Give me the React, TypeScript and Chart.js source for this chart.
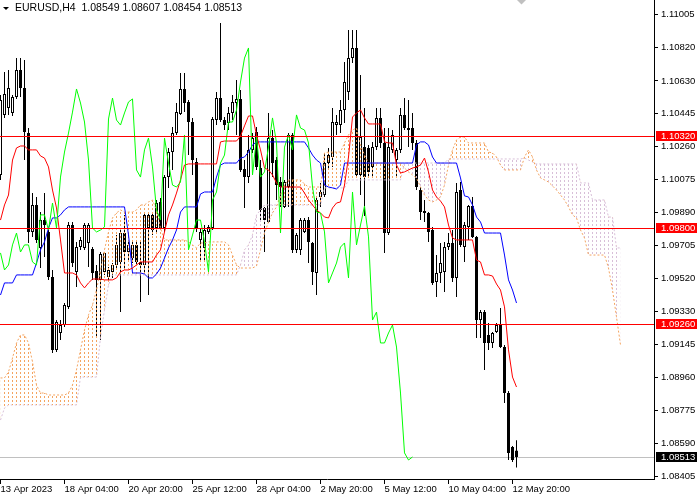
import React, { useEffect, useRef } from "react";
import { Chart, registerables } from "chart.js";

Chart.register(...registerables);

// EURUSD H4, one entry per bar (bar 0 = 13 Apr 2023)
const opens = [
  1.10101, 1.10439, 1.10478, 1.1045, 1.1054, 1.10692, 1.10591, 1.10337, 1.0978, 1.09932,
  1.0969, 1.09847, 1.0978, 1.09526, 1.09116, 1.09211, 1.09256, 1.09358, 1.09819, 1.09555,
  1.09695, 1.0969, 1.09718, 1.09684, 1.0956, 1.0951, 1.09555, 1.09526, 1.09555, 1.09594,
  1.09611, 1.09774, 1.09667, 1.09633, 1.09707, 1.09611, 1.09594, 1.09802, 1.09876, 1.09802,
  1.09949, 1.09802, 1.10089, 1.1023, 1.10337, 1.10444, 1.10585, 1.10512, 1.10399, 1.10174,
  1.09735, 1.0969, 1.0978, 1.09802, 1.1041, 1.10534, 1.1041, 1.10394, 1.1045, 1.10506,
  1.10529, 1.10135, 1.10089, 1.10242, 1.10343, 1.1014, 1.09915, 1.09836, 1.10309, 1.10185,
  1.10061, 1.09921, 1.10033, 1.10326, 1.09679, 1.09679, 1.0978, 1.09847, 1.09718, 1.09549,
  1.09977, 1.09988, 1.10168, 1.10202, 1.10382, 1.10382, 1.10467, 1.10568, 1.10759, 1.10816,
  1.10101, 1.10258, 1.10253, 1.10146, 1.10258, 1.10422, 1.10281, 1.09774, 1.10242, 1.10185,
  1.10242, 1.10439, 1.10365, 1.10365, 1.10281, 1.10016, 1.09898, 1.09887, 1.09791, 1.09498,
  1.09549, 1.09555, 1.09695, 1.09718, 1.09521, 1.10016, 1.09695, 1.09808, 1.09926, 1.09752,
  1.09284, 1.09329, 1.092, 1.09155, 1.09217, 1.09256, 1.09132, 1.08873, 1.08569, 1.08549,
];
const highs = [
  1.10551, 1.10681, 1.10692, 1.10551, 1.10759, 1.10759, 1.10748, 1.10365, 1.09999, 1.09977,
  1.09892, 1.09999, 1.09802, 1.09566, 1.09284, 1.09284, 1.0938, 1.09836, 1.09836, 1.09724,
  1.09752, 1.09831, 1.09831, 1.09695, 1.09594, 1.09667, 1.09667, 1.09583, 1.09605, 1.09763,
  1.09802, 1.09876, 1.09724, 1.09724, 1.09724, 1.09724, 1.09887, 1.09887, 1.09892, 1.0996,
  1.09971, 1.10101, 1.10253, 1.10371, 1.10506, 1.10675, 1.10675, 1.10523, 1.10422, 1.10196,
  1.09802, 1.09819, 1.09819, 1.10427, 1.10568, 1.10957, 1.10427, 1.10484, 1.10551, 1.10636,
  1.10579, 1.10185, 1.10326, 1.10337, 1.10371, 1.10185, 1.09921, 1.1045, 1.10354, 1.10202,
  1.10089, 1.10073, 1.10337, 1.10337, 1.09774, 1.09859, 1.09859, 1.09864, 1.09724, 1.09971,
  1.10056, 1.10225, 1.10253, 1.10478, 1.10439, 1.10523, 1.10737, 1.10917, 1.10917, 1.10917,
  1.10664, 1.10478, 1.1027, 1.10287, 1.10478, 1.10478, 1.10365, 1.10365, 1.10354, 1.10253,
  1.10478, 1.10534, 1.10523, 1.1045, 1.10298, 1.10033, 1.0996, 1.09892, 1.09808, 1.0965,
  1.09718, 1.09724, 1.09774, 1.09791, 1.10056, 1.10061, 1.09836, 1.09932, 1.09977, 1.09757,
  1.09341, 1.09341, 1.09268, 1.09217, 1.09268, 1.09352, 1.09144, 1.08885, 1.08575, 1.08607,
];
const lows = [
  1.10073, 1.10422, 1.10439, 1.10433, 1.10529, 1.1054, 1.10185, 1.09718, 1.09752, 1.09718,
  1.09577, 1.09639, 1.0951, 1.09099, 1.09104, 1.09172, 1.09245, 1.09346, 1.09583, 1.0947,
  1.09679, 1.09679, 1.09583, 1.0951, 1.09183, 1.09172, 1.09538, 1.0951, 1.09521, 1.09577,
  1.09329, 1.09577, 1.09611, 1.09605, 1.09594, 1.09386, 1.09549, 1.09425, 1.09763, 1.0978,
  1.09791, 1.0978, 1.10028, 1.10129, 1.10326, 1.10439, 1.10455, 1.10213, 1.10101, 1.0978,
  1.09611, 1.09611, 1.09769, 1.09791, 1.10382, 1.10399, 1.10354, 1.10354, 1.1041, 1.10326,
  1.10118, 1.09915, 1.10056, 1.10225, 1.10129, 1.09847, 1.09667, 1.09831, 1.10089, 1.0996,
  1.09921, 1.09915, 1.09921, 1.09662, 1.09662, 1.0965, 1.09774, 1.09605, 1.09481, 1.09425,
  1.09921, 1.09977, 1.10129, 1.10146, 1.10326, 1.10337, 1.10394, 1.10523, 1.10731, 1.10084,
  1.09988, 1.0987, 1.10089, 1.10089, 1.10242, 1.10253, 1.09662, 1.09763, 1.10225, 1.10089,
  1.10225, 1.10354, 1.10258, 1.10242, 1.10016, 1.09847, 1.09836, 1.09724, 1.09481, 1.09414,
  1.09493, 1.09442, 1.09679, 1.09498, 1.09414, 1.09695, 1.09611, 1.09735, 1.09746, 1.09183,
  1.09183, 1.09003, 1.09116, 1.09127, 1.09211, 1.09127, 1.08817, 1.08496, 1.08485, 1.08454,
];
const closes = [
  1.10523, 1.10557, 1.10591, 1.1054, 1.10692, 1.10591, 1.10343, 1.0978, 1.09932, 1.09735,
  1.09847, 1.09819, 1.09526, 1.09116, 1.09273, 1.09256, 1.09369, 1.09819, 1.09605, 1.09695,
  1.09735, 1.09819, 1.09819, 1.09549, 1.0951, 1.09656, 1.09662, 1.09566, 1.09594, 1.09707,
  1.09774, 1.09667, 1.09707, 1.09707, 1.09611, 1.09594, 1.09876, 1.09876, 1.09791, 1.09943,
  1.09802, 1.10089, 1.1023, 1.10337, 1.10455, 1.10585, 1.10506, 1.10399, 1.10185, 1.09802,
  1.0978, 1.09791, 1.09808, 1.10416, 1.10534, 1.1041, 1.10382, 1.1045, 1.10512, 1.10529,
  1.10129, 1.10089, 1.10242, 1.10309, 1.10146, 1.09904, 1.09847, 1.10309, 1.10168, 1.10044,
  1.10033, 1.10061, 1.10326, 1.09679, 1.09763, 1.09847, 1.09847, 1.09724, 1.09555, 1.0996,
  1.10005, 1.10168, 1.10213, 1.10399, 1.10399, 1.10467, 1.10624, 1.10759, 1.10816, 1.10101,
  1.10315, 1.10089, 1.10118, 1.10258, 1.10422, 1.10281, 1.09774, 1.10258, 1.10326, 1.10242,
  1.10439, 1.10365, 1.10354, 1.10281, 1.10033, 1.09892, 1.09887, 1.0978, 1.09493, 1.09549,
  1.09605, 1.09695, 1.09718, 1.09521, 1.10005, 1.09707, 1.09819, 1.09926, 1.09752, 1.09284,
  1.09329, 1.09155, 1.09155, 1.09211, 1.09256, 1.09132, 1.08873, 1.08536, 1.08496, 1.08513,
];

// Ichimoku lines
const tenkan = [
  1.09847, 1.09932, 1.09988, 1.10185, 1.10253, 1.10264, 1.10264, 1.10242, 1.10242, 1.10242,
  1.10208, 1.10196, 1.10146, 1.10016, 1.09915, 1.09735, 1.09549, 1.09549, 1.09549, 1.09538,
  1.09493, 1.09465, 1.09493, 1.09515, 1.09515, 1.09515, 1.0951, 1.0951, 1.0951, 1.09521,
  1.09555, 1.09566, 1.09566, 1.09577, 1.09594, 1.09611, 1.09611, 1.09611, 1.09611, 1.0965,
  1.09679, 1.0978, 1.09876, 1.09932, 1.09999, 1.10073, 1.10157, 1.10163, 1.10163, 1.10163,
  1.10163, 1.10163, 1.10163, 1.10163, 1.10163, 1.10287, 1.10292, 1.10292, 1.10292, 1.10292,
  1.1032, 1.10377, 1.10433, 1.10433, 1.10326, 1.10242, 1.1014, 1.10129, 1.10101, 1.10056,
  1.10033, 1.10033, 1.10033, 1.10033, 1.10033, 1.10033, 1.09999, 1.0996, 1.09932, 1.09904,
  1.09887, 1.09864, 1.09859, 1.09915, 1.09943, 1.09949, 1.10044, 1.10202, 1.10427, 1.1045,
  1.10467, 1.10422, 1.10388, 1.10388, 1.10388, 1.10388, 1.10287, 1.10281, 1.10281, 1.10157,
  1.10112, 1.10118, 1.10129, 1.1014, 1.10146, 1.10157, 1.10196, 1.10118, 1.10016, 1.09977,
  1.09954, 1.09921, 1.09819, 1.09746, 1.09735, 1.09735, 1.09735, 1.09735, 1.09735, 1.09622,
  1.09611, 1.09538, 1.09538, 1.09532, 1.09487, 1.09453, 1.09358, 1.09116, 1.08963, 1.08907,
];
const kijun = [
  1.09425, 1.09493, 1.09493, 1.09493, 1.09538, 1.09538, 1.09538, 1.09538, 1.09538, 1.09605,
  1.09679, 1.09724, 1.09802, 1.09859, 1.09859, 1.09876, 1.09904, 1.09921, 1.09921, 1.09921,
  1.09921, 1.09921, 1.09921, 1.09921, 1.09921, 1.09921, 1.09921, 1.09921, 1.09921, 1.09921,
  1.09921, 1.09921, 1.09763, 1.09549, 1.09549, 1.09549, 1.09543, 1.09521, 1.09521, 1.09543,
  1.09577, 1.09633, 1.0969, 1.09735, 1.09791, 1.09892, 1.09921, 1.09921, 1.09921, 1.09921,
  1.09994, 1.10005, 1.10005, 1.10005, 1.10089, 1.10157, 1.10168, 1.10168, 1.10168, 1.10168,
  1.10196, 1.10202, 1.1023, 1.1027, 1.10287, 1.10287, 1.10287, 1.10287, 1.10287, 1.10287,
  1.10287, 1.10287, 1.10287, 1.10287, 1.10287, 1.10287, 1.10287, 1.10253, 1.10213, 1.10185,
  1.10168, 1.10044, 1.10033, 1.10028, 1.10022, 1.10044, 1.10168, 1.10168, 1.10168, 1.10168,
  1.10168, 1.10168, 1.10168, 1.10168, 1.10168, 1.10168, 1.10168, 1.10168, 1.10168, 1.10168,
  1.10168, 1.10168, 1.10168, 1.10168, 1.1027, 1.10287, 1.10287, 1.1027, 1.10202, 1.10168,
  1.10168, 1.10168, 1.10168, 1.10168, 1.10168, 1.10084, 1.09983, 1.09977, 1.09932, 1.09864,
  1.09836, 1.09774, 1.09774, 1.09774, 1.09774, 1.09774, 1.0965, 1.0951, 1.09453, 1.0938,
];
// Senkou spans, already shifted 26 bars ahead (156 positions)
const spanA = [
  1.08958, 1.08958, 1.08992, 1.0907, 1.09155, 1.092, 1.092, 1.09155, 1.09048, 1.08918,
  1.08873, 1.08873, 1.08862, 1.08862, 1.08862, 1.08862, 1.08862, 1.08873, 1.08918, 1.09003,
  1.09116, 1.09228, 1.09313, 1.09369, 1.09453, 1.09566, 1.09679, 1.0978, 1.09859, 1.09887,
  1.09904, 1.09892, 1.09892, 1.09892, 1.09904, 1.09932, 1.09932, 1.09949, 1.0996, 1.09904,
  1.09802, 1.09735, 1.09735, 1.09735, 1.09735, 1.09735, 1.09735, 1.09724, 1.09707, 1.0969,
  1.09718, 1.09718, 1.09724, 1.09724, 1.09724, 1.09724, 1.09724, 1.09707, 1.0965, 1.09594,
  1.09577, 1.09577, 1.09577, 1.09577, 1.09588, 1.09679, 1.09774, 1.09836, 1.09887, 1.09921,
  1.09988, 1.10044, 1.10073, 1.10073, 1.10073, 1.10073, 1.1005, 1.10033, 1.10033, 1.10033,
  1.10033, 1.10225, 1.1023, 1.1023, 1.1023, 1.1023, 1.10281, 1.10326, 1.10354, 1.10365,
  1.1027, 1.10213, 1.10168, 1.10168, 1.10168, 1.10168, 1.10168, 1.10168, 1.10168, 1.10168,
  1.10168, 1.1014, 1.10118, 1.10101, 1.10084, 1.10033, 1.09988, 1.0996, 1.09949, 1.0996,
  1.09977, 1.10044, 1.10157, 1.10242, 1.10298, 1.10315, 1.10315, 1.10281, 1.10281, 1.10281,
  1.10281, 1.10281, 1.1023, 1.10225, 1.10202, 1.10157, 1.10129, 1.10129, 1.10129, 1.10129,
  1.10129, 1.10202, 1.10242, 1.10202, 1.10129, 1.10084, 1.10073, 1.10061, 1.10039, 1.10016,
  1.09988, 1.0996, 1.09921, 1.09876, 1.09859, 1.09791, 1.09746, 1.0965, 1.0965, 1.0965,
  1.0965, 1.0965, 1.09577, 1.09453, 1.09301, 1.09144,
];
const spanB = [
  1.08721, 1.08789, 1.08806, 1.08806, 1.08806, 1.08806, 1.08806, 1.08806, 1.08806, 1.08806,
  1.08806, 1.08806, 1.08806, 1.08806, 1.08806, 1.08806, 1.08806, 1.08806, 1.08806, 1.08806,
  1.08963, 1.08963, 1.08963, 1.08963, 1.08963, 1.09189, 1.09341, 1.09481, 1.09538, 1.09538,
  1.09538, 1.09538, 1.09538, 1.09538, 1.09538, 1.09538, 1.09538, 1.09538, 1.09538, 1.09538,
  1.09538, 1.09538, 1.09538, 1.09538, 1.09538, 1.09538, 1.09538, 1.09538, 1.09538, 1.09538,
  1.09538, 1.09538, 1.09538, 1.09538, 1.09538, 1.09538, 1.09538, 1.09538, 1.09538, 1.09538,
  1.09594, 1.09679, 1.09707, 1.09763, 1.09876, 1.09904, 1.09932, 1.09932, 1.09932, 1.09932,
  1.09932, 1.09932, 1.09932, 1.09932, 1.09932, 1.09932, 1.09932, 1.09932, 1.09932, 1.09932,
  1.09932, 1.10028, 1.10028, 1.10028, 1.10028, 1.10028, 1.10028, 1.10073, 1.10073, 1.10073,
  1.10073, 1.10073, 1.10073, 1.10073, 1.10073, 1.10073, 1.10073, 1.10073, 1.10073, 1.10073,
  1.10073, 1.10168, 1.10168, 1.10168, 1.10168, 1.10168, 1.10168, 1.10168, 1.10168, 1.10168,
  1.10168, 1.10168, 1.10191, 1.10191, 1.10191, 1.10191, 1.10191, 1.10191, 1.10191, 1.10191,
  1.10191, 1.10191, 1.10191, 1.10191, 1.10191, 1.10191, 1.10191, 1.10191, 1.10191, 1.10191,
  1.10191, 1.10196, 1.10185, 1.10174, 1.10163, 1.10163, 1.10163, 1.10163, 1.10163, 1.10163,
  1.10163, 1.10163, 1.10163, 1.10163, 1.10163, 1.10056, 1.10056, 1.10056, 1.0996, 1.0996,
  1.0996, 1.0996, 1.09864, 1.09864, 1.0969, 1.0969,
];

const timeTickBars = [0, 16, 32, 48, 64, 80, 96, 112, 128];
const timeTickLabels = [
  "13 Apr 2023", "18 Apr 04:00", "20 Apr 20:00", "25 Apr 12:00", "28 Apr 04:00",
  "2 May 20:00", "5 May 12:00", "10 May 04:00", "12 May 20:00",
];
const priceTicks = [
  1.11005, 1.1082, 1.1063, 1.10445, 1.1026, 1.10075, 1.0989, 1.09705, 1.0952, 1.0933,
  1.09145, 1.0896, 1.08775, 1.0859, 1.08405,
];
const levels = [1.1032, 1.098, 1.0926];
const symbol = "EURUSD,H4";

const FONT = "Liberation Sans";
const last = closes.length - 1;

function dotPattern(ctx: CanvasRenderingContext2D, color: string) {
  const c = document.createElement("canvas");
  c.width = 4;
  c.height = 4;
  const g = c.getContext("2d")!;
  g.fillStyle = color;
  g.fillRect(0, 0, 1, 2);
  return ctx.createPattern(c, "repeat");
}

const overlay = {
  id: "mtOverlay",
  beforeDatasetsDraw(chart: any) {
    const { ctx, chartArea, scales } = chart;
    const y = Math.round(scales.y.getPixelForValue(closes[last])) + 0.5;
    ctx.save();
    ctx.strokeStyle = "#c0c0c0";
    ctx.lineWidth = 1;
    ctx.beginPath();
    ctx.moveTo(chartArea.left, y);
    ctx.lineTo(chartArea.right, y);
    ctx.stroke();
    ctx.restore();
  },
  afterDatasetsDraw(chart: any) {
    const { ctx, chartArea, scales } = chart;
    ctx.save();
    ctx.strokeStyle = "#ff0000";
    ctx.lineWidth = 1;
    levels.forEach((lv) => {
      const y = Math.round(scales.y.getPixelForValue(lv)) + 0.5;
      ctx.beginPath();
      ctx.moveTo(chartArea.left, y);
      ctx.lineTo(chartArea.right, y);
      ctx.stroke();
    });
    ctx.restore();
  },
  afterDraw(chart: any) {
    const { ctx, chartArea, scales } = chart;
    ctx.save();
    ctx.font = `9.5px "${FONT}"`;
    ctx.textBaseline = "middle";
    const box = (price: number, bg: string) => {
      const y = Math.round(scales.y.getPixelForValue(price));
      ctx.fillStyle = bg;
      ctx.fillRect(chartArea.right + 2, y - 5, 41, 10);
      ctx.fillStyle = "#ffffff";
      ctx.fillText(price.toFixed(5), chartArea.right + 7, y + 0.5);
    };
    levels.forEach((lv) => box(lv, "#ff0000"));
    box(closes[last], "#000000");

    // title
    ctx.fillStyle = "#000000";
    ctx.beginPath();
    ctx.moveTo(3, 7);
    ctx.lineTo(9, 7);
    ctx.lineTo(6, 10);
    ctx.closePath();
    ctx.fill();
    ctx.font = `10.5px "${FONT}"`;
    const ohlc = [opens[last], highs[last], lows[last], closes[last]].map((v) => v.toFixed(5)).join(" ");
    ctx.fillText(`${symbol}  ${ohlc}`, 15, 8);

    // chart shift marker
    ctx.fillStyle = "#c0c0c0";
    ctx.beginPath();
    ctx.moveTo(517, 0);
    ctx.lineTo(526, 0);
    ctx.lineTo(521.5, 4.5);
    ctx.closePath();
    ctx.fill();
    ctx.restore();
  },
};

const App: React.FC = () => {
  const canvasRef = useRef<HTMLCanvasElement | null>(null);

  useEffect(() => {
    if (!canvasRef.current) return;
    const ctx = canvasRef.current.getContext("2d");
    if (!ctx) return;

    const orangeDots = dotPattern(ctx, "#f4a460");
    const thistleDots = dotPattern(ctx, "#d8bfd8");
    const pts = (arr: number[]) => arr.map((v, i) => ({ x: i, y: v }));

    const chart = new Chart(ctx, {
      type: "line",
      data: {
        datasets: [
          {
            type: "line",
            data: pts(closes.slice(26)),
            borderColor: "#00ff00",
            borderWidth: 1,
            pointRadius: 0,
            fill: false,
            order: 1,
          },
          {
            type: "line",
            data: pts(tenkan),
            borderColor: "#ff0000",
            borderWidth: 1,
            pointRadius: 0,
            fill: false,
            order: 2,
          },
          {
            type: "line",
            data: pts(kijun),
            borderColor: "#0000ff",
            borderWidth: 1,
            pointRadius: 0,
            fill: false,
            order: 3,
          },
          {
            type: "line",
            data: pts(spanA),
            borderColor: "#f4a460",
            borderWidth: 1,
            borderDash: [2, 2],
            pointRadius: 0,
            fill: { target: "+1", above: orangeDots, below: thistleDots },
            order: 4,
          },
          {
            type: "line",
            data: pts(spanB),
            borderColor: "#d8bfd8",
            borderWidth: 1,
            borderDash: [2, 2],
            pointRadius: 0,
            fill: false,
            order: 5,
          },
          {
            type: "bar",
            data: opens.map((o, i) => ({ x: i, y: [o, closes[i]] })),
            backgroundColor: opens.map((o, i) => (closes[i] >= o ? "#ffffff" : "#000000")),
            borderColor: "#000000",
            borderWidth: 1,
            borderSkipped: false,
            barThickness: 3,
            minBarLength: 1,
            grouped: false,
            inflateAmount: 0,
            order: 6,
          },
          {
            type: "bar",
            data: lows.map((l, i) => ({ x: i, y: [l, highs[i]] })),
            backgroundColor: "#000000",
            borderWidth: 0,
            barThickness: 1,
            grouped: false,
            inflateAmount: 0,
            order: 7,
          },
        ] as any,
      },
      options: {
        animation: false,
        responsive: false,
        devicePixelRatio: 1,
        events: [],
        layout: { padding: 0 },
        plugins: {
          legend: { display: false },
          tooltip: { enabled: false },
          title: { display: false },
        },
        scales: {
          x: {
            type: "linear",
            position: "bottom",
            min: -0.125,
            max: 163.375,
            offset: false,
            grid: { drawOnChartArea: false, drawTicks: true, tickLength: 5, color: "#000000", offset: false },
            border: { display: true, color: "#000000" },
            ticks: {
              autoSkip: false,
              maxRotation: 0,
              minRotation: 0,
              align: "start",
              padding: 0,
              color: "#000000",
              font: { family: FONT, size: 9.5 },
              callback: (v: any) => {
                const k = timeTickBars.indexOf(Number(v));
                return k >= 0 ? timeTickLabels[k] : "";
              },
            },
            afterBuildTicks: (scale: any) => {
              scale.ticks = timeTickBars.map((v) => ({ value: v }));
            },
            afterFit: (scale: any) => {
              scale.height = 21;
              scale.paddingLeft = 0;
              scale.paddingRight = 0;
            },
          },
          y: {
            type: "linear",
            position: "right",
            min: 1.08389,
            max: 1.11086,
            grid: { drawOnChartArea: false, drawTicks: true, tickLength: 4, color: "#000000" },
            border: { display: true, color: "#000000" },
            ticks: {
              padding: 3,
              color: "#000000",
              font: { family: FONT, size: 9.5 },
              callback: (v: any) => Number(v).toFixed(5),
            },
            afterBuildTicks: (scale: any) => {
              scale.ticks = priceTicks.map((v) => ({ value: v }));
            },
            afterFit: (scale: any) => {
              scale.width = 46;
              scale.paddingTop = 0;
              scale.paddingBottom = 0;
            },
          },
        },
      } as any,
      plugins: [overlay],
    });

    return () => {
      chart.destroy();
    };
  }, []);

  return (
    <div style={{ position: "fixed", left: 0, top: 0, width: 700, height: 500, background: "#ffffff" }}>
      <canvas ref={canvasRef} width={700} height={500} style={{ display: "block" }} />
    </div>
  );
};

export default App;
